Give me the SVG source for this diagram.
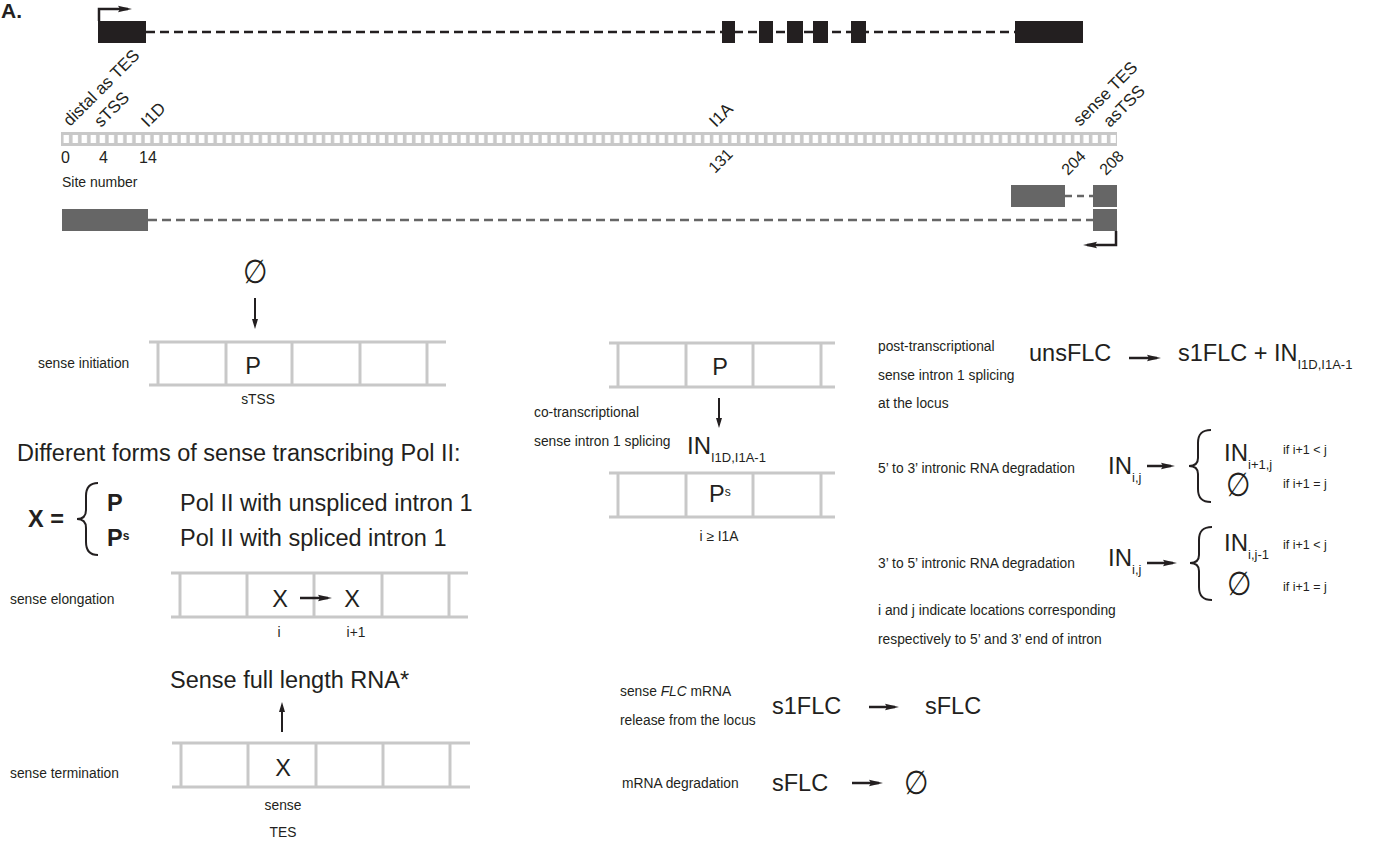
<svg xmlns="http://www.w3.org/2000/svg" width="1379" height="845" viewBox="0 0 1379 845">
<style>
text{font-family:"Liberation Sans",Arial,Helvetica,sans-serif;fill:#231f20}
.s{font-size:13.8px}
.b{font-size:23.5px}
.m{font-size:17px}
.n{font-size:16px}
.sub{font-size:13px}
.tiny{font-size:12.5px}
.phi{font-size:33px}
.lad{stroke:#c8c8c8;stroke-width:3;fill:none}
.ar{stroke:#231f20;stroke-width:2.5;fill:none}
.arS{stroke:#231f20;stroke-width:2;fill:none}
.br{stroke:#231f20;stroke-width:2;fill:none}
</style>
<defs>
<marker id="ahB" viewBox="0 0 14 8" refX="10" refY="4" markerWidth="14" markerHeight="8" markerUnits="userSpaceOnUse" orient="auto"><path d="M0,0.8 L14,4 L0,7.2 L2,4 z" fill="#231f20"/></marker>
<marker id="ahS" viewBox="0 0 10 7" refX="7" refY="3.5" markerWidth="10" markerHeight="7" markerUnits="userSpaceOnUse" orient="auto"><path d="M0,0.5 L10,3.5 L0,6.5 z" fill="#231f20"/></marker>
<pattern id="cells" x="61" y="132" width="9.025" height="14" patternUnits="userSpaceOnUse"><rect x="2.5" y="3" width="5.5" height="8" fill="#ffffff"/></pattern>
</defs>

<text x="1" y="18" style="font-size:21px;font-weight:bold">A.</text>

<!-- sense gene model -->
<g id="sense-gene">
<line x1="146" y1="32" x2="1015" y2="32" stroke="#231f20" stroke-width="2.5" stroke-dasharray="9 5"/>
<rect x="98" y="21" width="48" height="22" fill="#231f20"/>
<rect x="722" y="21" width="13" height="22" fill="#231f20"/>
<rect x="759" y="21" width="14" height="22" fill="#231f20"/>
<rect x="787" y="21" width="16" height="22" fill="#231f20"/>
<rect x="813" y="21" width="15" height="22" fill="#231f20"/>
<rect x="851" y="21" width="15" height="22" fill="#231f20"/>
<rect x="1015" y="21" width="68" height="22" fill="#231f20"/>
<polyline points="99,21 99,9 128,9" class="ar" marker-end="url(#ahB)"/>
</g>

<!-- site axis -->
<g id="site-axis">
<rect x="61" y="132" width="1056" height="14" fill="#c8c8c8"/>
<rect x="61" y="132" width="1056" height="14" fill="url(#cells)"/>
<text class="m" transform="translate(70,127) rotate(-45)">distal as TES</text>
<text class="m" transform="translate(101,128) rotate(-45)">sTSS</text>
<text class="m" transform="translate(148,128) rotate(-45)">I1D</text>
<text class="m" transform="translate(716,128) rotate(-45)">I1A</text>
<text class="m" transform="translate(1080,127) rotate(-45)">sense TES</text>
<text class="m" transform="translate(1110,128) rotate(-45)">asTSS</text>
<text class="n" x="61" y="163">0</text>
<text class="n" x="99" y="163">4</text>
<text class="n" x="139" y="163">14</text>
<text class="n" transform="translate(715,174) rotate(-45)">131</text>
<text class="n" transform="translate(1068,176) rotate(-45)">204</text>
<text class="n" transform="translate(1106,176) rotate(-45)">208</text>
<text x="62" y="187" style="font-size:14px">Site number</text>
</g>

<!-- antisense gene model -->
<g id="antisense-gene">
<line x1="148" y1="220" x2="1093" y2="220" stroke="#666666" stroke-width="2.5" stroke-dasharray="9 5"/>
<line x1="1065" y1="196" x2="1093" y2="196" stroke="#666666" stroke-width="2.5" stroke-dasharray="7 5"/>
<rect x="62" y="209" width="86" height="22" fill="#666666"/>
<rect x="1011" y="185" width="54" height="22" fill="#666666"/>
<rect x="1093" y="185" width="24" height="22" fill="#666666"/>
<rect x="1093" y="209" width="24" height="22" fill="#666666"/>
<polyline points="1116,231 1116,245 1087,245" class="ar" marker-end="url(#ahB)"/>
</g>

<!-- sense initiation -->
<g id="sense-initiation">
<text class="phi" text-anchor="middle" transform="translate(255,283) scale(0.85,1)">∅</text>
<line x1="255" y1="298" x2="255" y2="326" class="arS" marker-end="url(#ahS)"/>
<g class="lad"><line x1="149" y1="342" x2="446" y2="342"/><line x1="149" y1="385" x2="446" y2="385"/><line x1="158" y1="342" x2="158" y2="385"/><line x1="226" y1="342" x2="226" y2="385"/><line x1="292" y1="342" x2="292" y2="385"/><line x1="360" y1="342" x2="360" y2="385"/><line x1="427" y1="342" x2="427" y2="385"/></g>
<text class="b" x="253" y="374" text-anchor="middle">P</text>
<text class="s" x="38" y="368">sense initiation</text>
<text class="s" x="258" y="404" text-anchor="middle">sTSS</text>
</g>

<!-- Pol II forms -->
<g id="pol-forms">
<text class="b" x="17" y="461">Different forms of sense transcribing Pol II:</text>
<text class="b" x="28" y="527" style="font-weight:bold">X =</text>
<path class="br" d="M98,483 C89,483 86,488 86,496 L86,510 C86,516 83,519 77,519 C83,519 86,522 86,528 L86,542 C86,550 89,555 98,555"/>
<text class="b" x="107" y="511" style="font-weight:bold">P</text>
<text class="b" x="107" y="546" style="font-weight:bold">P<tspan style="font-size:12px" dy="-6">s</tspan></text>
<text class="b" x="180" y="511">Pol II with unspliced intron 1</text>
<text class="b" x="180" y="546">Pol II with spliced intron 1</text>
</g>

<!-- sense elongation -->
<g id="sense-elongation">
<g class="lad"><line x1="171" y1="573" x2="468" y2="573"/><line x1="171" y1="617" x2="468" y2="617"/><line x1="180" y1="573" x2="180" y2="617"/><line x1="247" y1="573" x2="247" y2="617"/><line x1="314" y1="573" x2="314" y2="617"/><line x1="382" y1="573" x2="382" y2="617"/><line x1="449" y1="573" x2="449" y2="617"/></g>
<text class="b" x="280" y="607" text-anchor="middle">X</text>
<text class="b" x="352" y="607" text-anchor="middle">X</text>
<line x1="300" y1="598" x2="328" y2="598" class="ar" marker-end="url(#ahB)"/>
<text class="s" x="10" y="604">sense elongation</text>
<text class="s" x="279" y="637" text-anchor="middle">i</text>
<text class="s" x="356" y="637" text-anchor="middle">i+1</text>
</g>

<!-- sense termination -->
<g id="sense-termination">
<text class="b" x="170" y="688">Sense full length RNA*</text>
<line x1="282" y1="732" x2="282" y2="705" class="arS" marker-end="url(#ahS)"/>
<g class="lad"><line x1="172" y1="743" x2="470" y2="743"/><line x1="172" y1="787" x2="470" y2="787"/><line x1="181" y1="743" x2="181" y2="787"/><line x1="248" y1="743" x2="248" y2="787"/><line x1="316" y1="743" x2="316" y2="787"/><line x1="383" y1="743" x2="383" y2="787"/><line x1="450" y1="743" x2="450" y2="787"/></g>
<text class="b" x="283" y="776" text-anchor="middle">X</text>
<text class="s" x="10" y="778">sense termination</text>
<text class="s" x="283" y="810" text-anchor="middle">sense</text>
<text class="s" x="283" y="837" text-anchor="middle">TES</text>
</g>

<!-- co-transcriptional splicing -->
<g id="co-splicing">
<g class="lad"><line x1="609" y1="343" x2="835" y2="343"/><line x1="609" y1="387" x2="835" y2="387"/><line x1="618" y1="343" x2="618" y2="387"/><line x1="686" y1="343" x2="686" y2="387"/><line x1="753" y1="343" x2="753" y2="387"/><line x1="821" y1="343" x2="821" y2="387"/></g>
<text class="b" x="720" y="375" text-anchor="middle">P</text>
<line x1="719" y1="398" x2="719" y2="425" class="arS" marker-end="url(#ahS)"/>
<text class="s" x="534" y="417">co-transcriptional</text>
<text class="s" x="534" y="446">sense intron 1 splicing</text>
<text x="687" y="454" style="font-size:24px">IN<tspan class="sub" dy="8">I1D,I1A-1</tspan></text>
<g class="lad"><line x1="609" y1="473" x2="835" y2="473"/><line x1="609" y1="517" x2="835" y2="517"/><line x1="618" y1="473" x2="618" y2="517"/><line x1="686" y1="473" x2="686" y2="517"/><line x1="753" y1="473" x2="753" y2="517"/><line x1="821" y1="473" x2="821" y2="517"/></g>
<text class="b" x="709" y="502">P<tspan style="font-size:12px" dy="-6">s</tspan></text>
<text class="s" x="719" y="541" text-anchor="middle">i ≥ I1A</text>
</g>

<!-- post-transcriptional splicing -->
<g id="post-splicing">
<text class="s" x="878" y="351">post-transcriptional</text>
<text class="s" x="878" y="380">sense intron 1 splicing</text>
<text class="s" x="878" y="408">at the locus</text>
<text class="b" x="1029" y="361">unsFLC</text>
<line x1="1129" y1="358" x2="1157" y2="358" class="ar" marker-end="url(#ahB)"/>
<text class="b" x="1178" y="361">s1FLC + IN<tspan class="sub" dy="8">I1D,I1A-1</tspan></text>
</g>

<!-- 5' to 3' degradation -->
<g id="deg-5to3">
<text class="s" x="878" y="473">5’ to 3’ intronic RNA degradation</text>
<text x="1108" y="474" style="font-size:24px">IN<tspan class="sub" dy="8">i,j</tspan></text>
<line x1="1147" y1="466" x2="1171" y2="466" class="ar" marker-end="url(#ahB)"/>
<path class="br" d="M1211,430 C1201,430 1198,435 1198,443 L1198,458 C1198,463 1195,466 1189,466 C1195,466 1198,469 1198,474 L1198,489 C1198,497 1201,502 1211,502"/>
<text x="1224" y="461" style="font-size:24px">IN<tspan class="sub" dy="8">i+1,j</tspan></text>
<text class="tiny" x="1283" y="454">if i+1 &lt; j</text>
<text class="phi" text-anchor="middle" transform="translate(1238,496) scale(0.85,1)">∅</text>
<text class="tiny" x="1283" y="488">if i+1 = j</text>
</g>

<!-- 3' to 5' degradation -->
<g id="deg-3to5">
<text class="s" x="878" y="568">3’ to 5’ intronic RNA degradation</text>
<text x="1108" y="566" style="font-size:24px">IN<tspan class="sub" dy="8">i,j</tspan></text>
<line x1="1147" y1="563" x2="1173" y2="563" class="ar" marker-end="url(#ahB)"/>
<path class="br" d="M1212,527 C1202,527 1199,532 1199,540 L1199,555 C1199,560 1196,563 1190,563 C1196,563 1199,566 1199,571 L1199,587 C1199,595 1202,600 1212,600"/>
<text x="1224" y="551" style="font-size:24px">IN<tspan class="sub" dy="8">i,j-1</tspan></text>
<text class="tiny" x="1283" y="549">if i+1 &lt; j</text>
<text class="phi" text-anchor="middle" transform="translate(1239,595) scale(0.85,1)">∅</text>
<text class="tiny" x="1283" y="591">if i+1 = j</text>
<text class="s" x="878" y="615">i and j indicate locations corresponding</text>
<text class="s" x="878" y="644">respectively to 5’ and 3’ end of intron</text>
</g>

<!-- mRNA release -->
<g id="mrna-release">
<text class="s" x="620" y="696">sense <tspan style="font-style:italic">FLC</tspan> mRNA</text>
<text class="s" x="620" y="725">release from the locus</text>
<text class="b" x="772" y="714">s1FLC</text>
<line x1="869" y1="707" x2="895" y2="707" class="ar" marker-end="url(#ahB)"/>
<text class="b" x="925" y="714">sFLC</text>
</g>

<!-- mRNA degradation -->
<g id="mrna-degradation">
<text class="s" x="622" y="788">mRNA degradation</text>
<text class="b" x="772" y="791">sFLC</text>
<line x1="852" y1="783" x2="879" y2="783" class="ar" marker-end="url(#ahB)"/>
<text class="phi" text-anchor="middle" transform="translate(916,794) scale(0.85,1)">∅</text>
</g>
</svg>
